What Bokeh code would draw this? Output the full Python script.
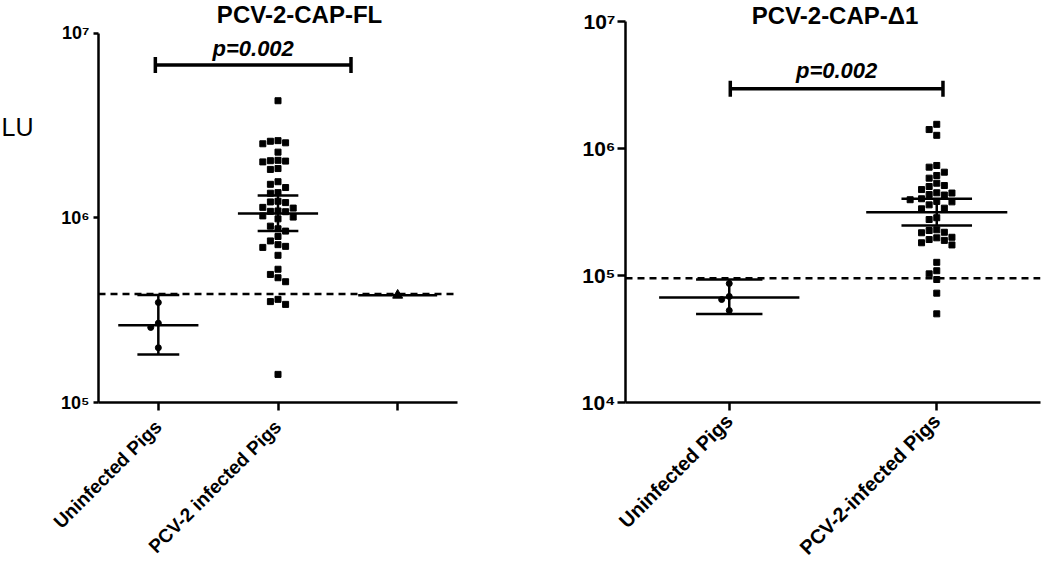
import math
import numpy as np
from bokeh.plotting import figure
from bokeh.layouts import row
from bokeh.models import Label, FixedTicker, Span, CustomJSTickFormatter
from bokeh.embed import file_html
from bokeh.resources import INLINE

# ---------------- Panel 1: PCV-2-CAP-FL ----------------
fl_title = "PCV-2-CAP-FL"
fl_categories = ["Uninfected Pigs", "PCV-2 infected Pigs", ""]
fl_uninfected = [3.48e5, 2.69e5, 2.55e5, 1.98e5]
fl_infected = [4.31e6, 2.62e6, 2.55e6, 2.52e6, 2.60e6, 2.27e6, 2.05e6, 2.03e6, 2.01e6,
               2.04e6, 1.85e6, 1.83e6, 1.57e6, 1.52e6, 1.46e6, 1.37e6, 1.36e6, 1.23e6,
               1.21e6, 1.22e6, 1.14e6, 1.13e6, 1.09e6, 1.08e6, 1.085e6, 1.025e6, 1.01e6,
               9.88e5, 9.02e5, 8.73e5, 8.48e5, 7.93e5, 7.50e5, 7.01e5, 6.92e5, 7.16e5,
               6.27e5, 5.27e5, 4.94e5, 4.74e5, 4.51e5, 3.62e5, 3.52e5, 3.40e5, 1.42e5]
fl_third = [3.81e5]
fl_means = [2.62e5, 1.055e6, 3.81e5]
fl_upper = [3.82e5, 1.32e6]
fl_lower = [1.82e5, 8.48e5]
fl_cutoff = 3.87e5
fl_p_text = "p=0.002"
fl_bracket_y = 6.73e6
fl_y_ticks = [1e5, 1e6, 1e7]
fl_y_labels = ["10\u2075", "10\u2076", "10\u2077"]
fl_y_axis_label = "LU"

# ---------------- Panel 2: PCV-2-CAP-Δ1 ----------------
d1_title = "PCV-2-CAP-\u03941"
d1_categories = ["Uninfected Pigs", "PCV-2-infected Pigs"]
d1_uninfected = [8.65e4, 6.84e4, 6.47e4, 5.30e4]
d1_infected = [1.55e6, 1.41e6, 1.27e6, 7.35e5, 7.13e5, 6.51e5, 6.13e5, 5.84e5, 5.33e5,
               5.02e5, 5.11e5, 4.75e5, 4.48e5, 4.34e5, 4.30e5, 4.46e5, 3.83e5, 3.95e5,
               4.02e5, 3.80e5, 3.60e5, 3.39e5, 3.35e5, 2.85e5, 2.76e5, 2.26e5, 2.19e5,
               2.17e5, 2.29e5, 2.00e5, 1.89e5, 1.98e5, 1.92e5, 1.74e5, 1.81e5, 1.27e5,
               1.09e5, 1.03e5, 9.30e4, 7.26e4, 4.99e4]
d1_means = [6.71e4, 3.15e5]
d1_upper = [9.3e4, 4.02e5]
d1_lower = [4.98e4, 2.48e5]
d1_cutoff = 9.5e4
d1_p_text = "p=0.002"
d1_bracket_y = 2.95e6
d1_y_ticks = [1e4, 1e5, 1e6, 1e7]
d1_y_labels = ["10\u2074", "10\u2075", "10\u2076", "10\u2077"]

FONT = "Liberation Sans"
H = 570


def swarm(vals, px_dec, px_cat, step=7.6):
    """Deterministic beeswarm offsets (category units)."""
    ys = np.log10(np.asarray(vals, float)) * px_dec
    order = np.argsort(-ys)
    placed = []
    xs = np.zeros(len(ys))
    cands = [0.0]
    for k in range(1, 30):
        cands += [k * 0.5, -k * 0.5]
    for i in order:
        y = ys[i]
        for c in sorted(cands, key=lambda v: (abs(v), v)):
            x = c * step
            if all(abs(x - px) >= step or abs(y - py) >= step for px, py in placed):
                placed.append((x, y))
                xs[i] = x / px_cat
                break
    return xs


def make_fig(width, mbl, mbr, mbb, y_lo_exp, px_dec, n_cat, y_ticks, y_labels,
             cats, xtick_font, xtick_standoff, ytick_font, ytick_len, ytick_standoff):
    frame_h = H - mbb
    y_hi_exp = y_lo_exp + frame_h / px_dec
    p = figure(width=width, height=H, y_axis_type="log",
               x_range=(0.5, n_cat + 0.5), y_range=(10 ** y_lo_exp, 10 ** y_hi_exp),
               output_backend="svg", toolbar_location=None,
               min_border_left=mbl, min_border_right=mbr, min_border_top=0,
               min_border_bottom=mbb)
    p.outline_line_color = None
    p.grid.visible = False
    p.background_fill_color = "white"
    p.border_fill_color = "white"
    for ax in (p.xaxis[0], p.yaxis[0]):
        ax.axis_line_width = 2.5
        ax.axis_line_color = "black"
        ax.major_tick_line_width = 2.5
        ax.major_tick_line_color = "black"
        ax.major_tick_in = 0
        ax.minor_tick_line_color = None
        ax.major_label_text_font = FONT
        ax.major_label_text_font_style = "bold"
        ax.major_label_text_color = "black"
    p.yaxis.bounds = (y_ticks[0], y_ticks[-1])
    p.yaxis.ticker = FixedTicker(ticks=y_ticks)
    p.yaxis.formatter = CustomJSTickFormatter(args=dict(vals=y_ticks, labs=y_labels), code="""
        for (let i = 0; i < vals.length; i++) {
            if (Math.abs(Math.log10(vals[i]) - Math.log10(tick)) < 1e-6) return labs[i];
        }
        return '';""")
    p.yaxis.major_tick_out = ytick_len
    p.yaxis.major_label_text_font_size = ytick_font
    p.yaxis.major_label_standoff = ytick_standoff
    p.xaxis.ticker = FixedTicker(ticks=list(range(1, n_cat + 1)))
    p.xaxis.formatter = CustomJSTickFormatter(args=dict(labs=cats), code="""
        const i = Math.round(tick) - 1;
        return (i >= 0 && i < labs.length) ? labs[i] : '';""")
    p.xaxis.major_tick_out = 8
    p.xaxis.major_label_orientation = math.pi / 4
    p.xaxis.major_label_text_font_size = xtick_font
    p.xaxis.major_label_standoff = xtick_standoff
    return p


def add_summary(p, xc, mean, lo, hi, mean_hw, cap_hw):
    p.segment(x0=[xc - mean_hw], x1=[xc + mean_hw], y0=[mean], y1=[mean],
              line_color="black", line_width=2.5)
    if lo is not None:
        p.segment(x0=[xc, xc - cap_hw, xc - cap_hw], x1=[xc, xc + cap_hw, xc + cap_hw],
                  y0=[lo, lo, hi], y1=[hi, lo, hi], line_color="black", line_width=2.5)


def add_bracket(p, x0, x1, y, ptxt, px_dec, text_y_px, font):
    dy = 10 ** (8 / px_dec)
    p.segment(x0=[x0, x0, x1], x1=[x1, x0, x1], y0=[y, y / dy, y / dy], y1=[y, y * dy, y * dy],
              line_color="black", line_width=3.5)
    p.add_layout(Label(x=(x0 + x1) / 2, y=y * 10 ** (text_y_px / px_dec), text=ptxt,
                       text_font=FONT, text_font_style="bold italic", text_font_size=font,
                       text_align="center", text_baseline="middle", text_color="black"))


# ---- narrow strip carrying the "LU" axis title ----
W0 = 40
p0 = figure(width=W0, height=H, x_range=(0, W0), y_range=(H, 0),
            output_backend="svg", toolbar_location=None, min_border=0)
p0.axis.visible = False
p0.grid.visible = False
p0.outline_line_color = None
p0.add_layout(Label(x=1, y=179, text=fl_y_axis_label, text_font=FONT, text_font_size="25px",
                    text_align="left", text_baseline="middle", text_color="black"))

# ---- left figure ----
PX1 = 186.0
W1, MBL1, MBR1, MBB1 = 490, 58, 73, 165
pxcat1 = (W1 - MBL1 - MBR1) / 3.0
p1 = make_fig(W1, MBL1, MBR1, MBB1, 5.0, PX1, 3, fl_y_ticks, fl_y_labels,
              fl_categories, "19px", 13, "18px", 5, 4)
p1.add_layout(Span(location=fl_cutoff, dimension="width", line_color="black",
                   line_width=2.5, line_dash="7 5"))
xs_u = 1 + swarm(fl_uninfected, PX1, pxcat1)
p1.scatter(xs_u, fl_uninfected, marker="circle", size=6, color="black")
xs_i = 2 + swarm(fl_infected, PX1, pxcat1)
p1.scatter(xs_i, fl_infected, marker="square", size=6, color="black")
xs_t = 3 + swarm(fl_third, PX1, pxcat1)
p1.scatter(xs_t, fl_third, marker="triangle", size=10, color="black")
add_summary(p1, 1, fl_means[0], fl_lower[0], fl_upper[0], 0.335, 0.175)
add_summary(p1, 2, fl_means[1], fl_lower[1], fl_upper[1], 0.335, 0.17)
add_summary(p1, 3, fl_means[2], None, None, 0.33, 0)
add_bracket(p1, 0.975, 2.61, fl_bracket_y, fl_p_text, PX1, 17, "22px")
p1.add_layout(Label(x=2.18, y=10 ** (7 + 19 / PX1), text=fl_title, text_font=FONT,
                    text_font_style="bold", text_font_size="24px", text_align="center",
                    text_baseline="middle", text_color="black"))

# ---- right figure ----
PX2 = 127.0
W2, MBL2, MBR2, MBB2 = 520, 95, 10, 168
pxcat2 = (W2 - MBL2 - MBR2) / 2.0
p2 = make_fig(W2, MBL2, MBR2, MBB2, 4.0, PX2, 2, d1_y_ticks, d1_y_labels,
              d1_categories, "20px", 7, "21px", 8, 2)
p2.add_layout(Span(location=d1_cutoff, dimension="width", line_color="black",
                   line_width=2.5, line_dash="7 5"))
xs_u2 = 1 + swarm(d1_uninfected, PX2, pxcat2)
p2.scatter(xs_u2, d1_uninfected, marker="circle", size=6, color="black")
xs_i2 = 2 + swarm(d1_infected, PX2, pxcat2)
p2.scatter(xs_i2, d1_infected, marker="square", size=6, color="black")
add_summary(p2, 1, d1_means[0], d1_lower[0], d1_upper[0], 0.338, 0.16)
add_summary(p2, 2, d1_means[1], d1_lower[1], d1_upper[1], 0.34, 0.17)
add_bracket(p2, 1.005, 2.03, d1_bracket_y, d1_p_text, PX2, 18, "22px")
p2.add_layout(Label(x=1.51, y=10 ** (7 + 6 / PX2), text=d1_title, text_font=FONT,
                    text_font_style="bold", text_font_size="24px", text_align="center",
                    text_baseline="middle", text_color="black"))

layout = row(p0, p1, p2)
open("out.html", "w").write(file_html(layout, INLINE))
